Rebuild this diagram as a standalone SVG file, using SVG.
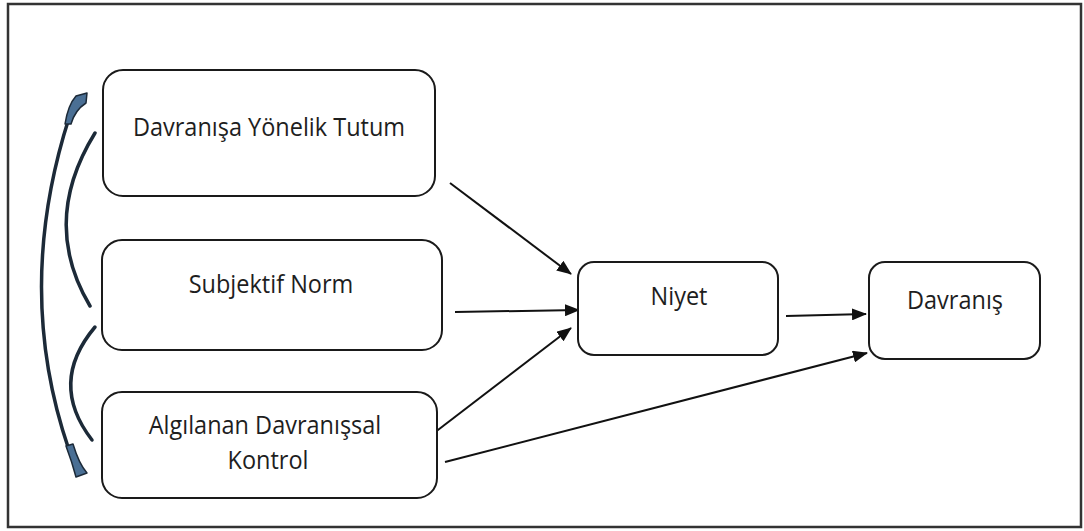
<svg xmlns="http://www.w3.org/2000/svg" width="1084" height="531" viewBox="0 0 1084 531">
  <defs>
    <style>
      .box { fill: #ffffff; stroke: #1a1a1a; stroke-width: 2; }
      .lbl { font-family: "Open Sans", "Liberation Sans", sans-serif; font-size: 23.5px; fill: #1e1e1e; text-anchor: middle; }
      .conn { stroke: #111111; stroke-width: 2; fill: none; }
      .curve { fill: none; stroke: #1c2a38; stroke-width: 3.5; stroke-linecap: round; }
      .tip { fill: #4a6f94; stroke: #1c2a38; stroke-width: 1.5; stroke-linejoin: round; }
    </style>
    <marker id="arrow" viewBox="0 0 15 12" refX="14" refY="6" markerWidth="15" markerHeight="12" markerUnits="userSpaceOnUse" orient="auto">
      <path d="M0,0 L15,6 L0,12 Z" fill="#111111"/>
    </marker>
  </defs>

  <rect width="1084" height="531" fill="#ffffff"/>
  <!-- outer frame -->
  <rect x="8" y="4" width="1073" height="523" fill="none" stroke="#333333" stroke-width="2.5"/>

  <!-- mutual relations on the left -->
  <g id="relations">
    <path class="curve" d="M69,118 Q14,290 69,450"/>
    <path class="tip" d="M65,124 Q68,105 76,96 L87,93 L86,103 Q75,110 71,124 Z"/>
    <path class="tip" d="M66,446 Q72,462 76,477 L87,473 Q79,464 73,444 Z"/>
    <path class="curve" d="M95,133 Q40,222 90,306"/>
    <path class="curve" d="M95,327 Q48,383 92,440"/>
  </g>

  <g id="connectors">
    <line class="conn" x1="450" y1="183" x2="571" y2="274" marker-end="url(#arrow)"/>
    <line class="conn" x1="455" y1="312" x2="579" y2="310" stroke-width="1.3" marker-end="url(#arrow)"/>
    <line class="conn" x1="434" y1="433" x2="571" y2="328" marker-end="url(#arrow)"/>
    <line class="conn" x1="445" y1="462" x2="867" y2="353" marker-end="url(#arrow)"/>
    <line class="conn" x1="786" y1="316" x2="866" y2="314" marker-end="url(#arrow)"/>
  </g>

  <g id="tutum">
    <rect class="box" x="103" y="70" width="332" height="126" rx="20"/>
    <text class="lbl" transform="translate(269,136) scale(1,1.12)">Davranışa Yönelik Tutum</text>
  </g>
  <g id="norm">
    <rect class="box" x="102" y="240" width="340" height="110" rx="20"/>
    <text class="lbl" transform="translate(271,293) scale(1,1.12)">Subjektif Norm</text>
  </g>
  <g id="kontrol">
    <rect class="box" x="102" y="392" width="335" height="106" rx="20"/>
    <text class="lbl" transform="translate(265,434) scale(1,1.12)">Algılanan Davranışsal</text>
    <text class="lbl" transform="translate(268,469) scale(1,1.12)">Kontrol</text>
  </g>
  <g id="niyet">
    <rect class="box" x="578" y="262" width="200" height="93" rx="16"/>
    <text class="lbl" transform="translate(679,305) scale(1,1.12)">Niyet</text>
  </g>
  <g id="davranis">
    <rect class="box" x="869" y="262" width="171" height="97" rx="16"/>
    <text class="lbl" transform="translate(955,309) scale(1,1.12)">Davranış</text>
  </g>
</svg>
